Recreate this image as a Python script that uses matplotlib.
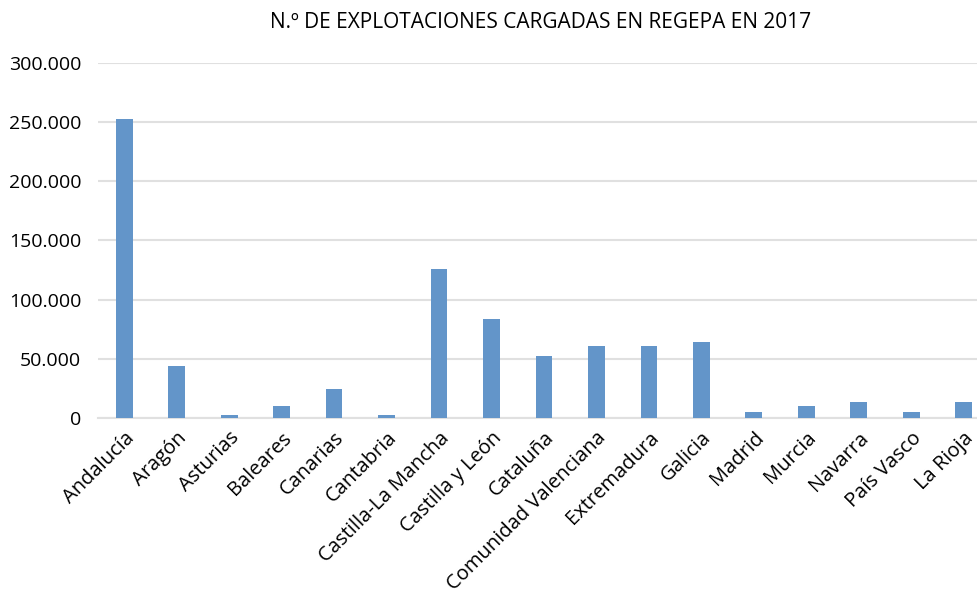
import matplotlib.pyplot as plt
from matplotlib.ticker import FuncFormatter

plt.rcParams['font.family'] = ['Open Sans', 'DejaVu Sans']

regiones = ['Andalucía', 'Aragón', 'Asturias', 'Baleares', 'Canarias', 'Cantabria',
            'Castilla-La Mancha', 'Castilla y León', 'Cataluña', 'Comunidad Valenciana',
            'Extremadura', 'Galicia', 'Madrid', 'Murcia', 'Navarra', 'País Vasco', 'La Rioja']
explotaciones = [252500, 44100, 2800, 10400, 24700, 2800, 126000, 83800, 52600,
                 61000, 61000, 64400, 5300, 10400, 13800, 5300, 13800]
yticks = [0, 50000, 100000, 150000, 200000, 250000, 300000]

fig = plt.figure(figsize=(9.78, 6.05), dpi=100)
ax = fig.add_axes([0.1002, 0.3086, 0.912, 0.5878])

x = range(len(regiones))
ax.bar(x, explotaciones, width=0.32, color='#6395c9', zorder=3)

ax.set_xlim(-0.5, len(regiones) - 0.5)
ax.set_ylim(0, 300000)
ax.set_yticks(yticks)
ax.yaxis.set_major_formatter(FuncFormatter(lambda v, p: f'{int(v):,}'.replace(',', '.')))
ax.grid(axis='y', color='#e0e0e0', linewidth=1.5, zorder=0)
ax.set_axisbelow(True)

for s in ['top', 'right', 'left']:
    ax.spines[s].set_visible(False)
ax.spines['bottom'].set_color('#e0e0e0')
ax.spines['bottom'].set_linewidth(1.5)

ax.set_xticks(list(x))
ax.set_xticklabels(regiones, rotation=45, ha='right', rotation_mode='anchor', fontsize=14.5)
ax.tick_params(axis='both', length=0, colors='#000000')
ax.tick_params(axis='y', pad=12, labelsize=14)
ax.tick_params(axis='x', pad=7)

fig.text(0.553, 0.963, 'N.º DE EXPLOTACIONES CARGADAS EN REGEPA EN 2017',
         ha='center', va='center', fontsize=15, color='#000000')

fig.savefig('out.png', dpi=100)
